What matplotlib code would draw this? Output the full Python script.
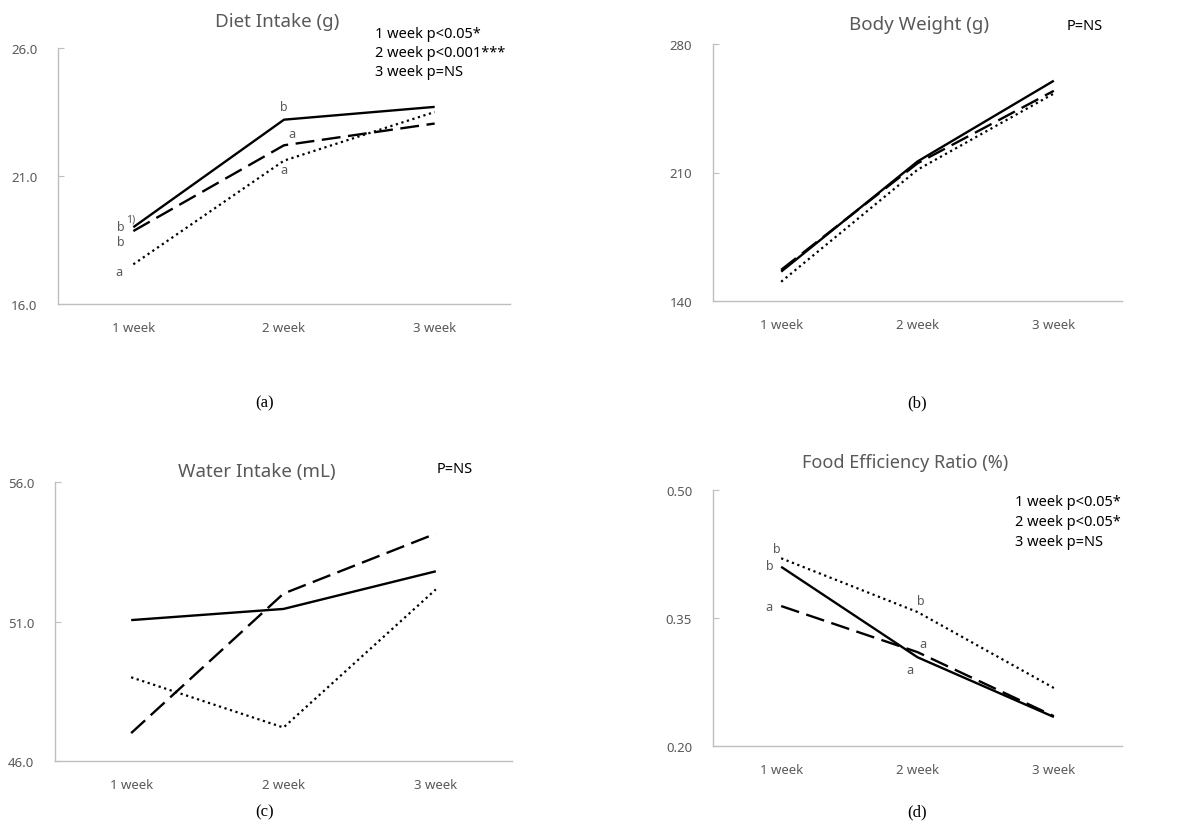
import matplotlib
matplotlib.use("Agg")
import matplotlib.pyplot as plt

plt.rcParams["font.family"] = ["Noto Sans", "DejaVu Sans"]

weeks = ["1 week", "2 week", "3 week"]

# (a) diet intake
diet_solid = [19.0, 23.2, 23.7]
diet_dashed = [18.85, 22.2, 23.05]
diet_dotted = [17.55, 21.6, 23.5]
diet_ticks = [16.0, 21.0, 26.0]
diet_stats = ["1 week p<0.05*", "2 week p<0.001***", "3 week p=NS"]

# (b) body weight
weight_solid = [156.0, 216.0, 260.0]
weight_dashed = [157.0, 215.0, 254.5]
weight_dotted = [150.5, 211.5, 253.0]
weight_ticks = [140, 210, 280]

# (c) water intake
water_solid = [51.05, 51.45, 52.8]
water_dashed = [47.0, 52.0, 54.15]
water_dotted = [49.0, 47.2, 52.15]
water_ticks = [46.0, 51.0, 56.0]

# (d) food efficiency ratio
fer_solid = [0.410, 0.304, 0.234]
fer_dashed = [0.364, 0.310, 0.235]
fer_dotted = [0.420, 0.357, 0.268]
fer_ticks = [0.20, 0.35, 0.50]
fer_stats = ["1 week p<0.05*", "2 week p<0.05*", "3 week p=NS"]

W, H = 1184, 828
GRAY = "#595959"
AXIS_GRAY = "#bfbfbf"


def px_axes(fig, left, top, right, bottom):
    return fig.add_axes([left / W, 1 - bottom / H, (right - left) / W, (bottom - top) / H])


def draw_panel(ax, solid, dashed, dotted, ticks, fmt):
    x = range(len(weeks))
    ax.plot(x, solid, color="black", lw=1.7, solid_capstyle="butt")
    ax.plot(x, dashed, color="black", lw=1.7, linestyle=(0, (8, 3.2)))
    ax.plot(x, dotted, color="black", lw=1.6, linestyle=(0, (1, 1.6)))
    ax.set_xlim(-0.5, 2.5)
    ax.set_ylim(ticks[0], ticks[-1])
    ax.set_yticks(ticks)
    ax.set_yticklabels([fmt.format(t) for t in ticks])
    ax.set_xticks(list(x))
    ax.set_xticklabels(weeks)
    for side in ["top", "right"]:
        ax.spines[side].set_visible(False)
    for side in ["left", "bottom"]:
        ax.spines[side].set_color(AXIS_GRAY)
        ax.spines[side].set_linewidth(1.0)
    ax.tick_params(axis="y", direction="in", length=4, color=AXIS_GRAY,
                   labelcolor=GRAY, labelsize=9.5, pad=15)
    ax.tick_params(axis="x", length=0, labelcolor=GRAY, labelsize=9.5, pad=12)


def letters(ax, series, labels):
    # labels: (week index, text, dx px, dy px)
    for i, text, dx, dy in labels:
        ax.annotate(text, xy=(i, series[i]), xytext=(dx * 0.72, dy * 0.72),
                    textcoords="offset points", ha="center", va="center",
                    fontsize=9, color=GRAY)


fig = plt.figure(figsize=(W / 100, H / 100), dpi=100)

# (a)
ax_a = px_axes(fig, 58, 49, 510, 305)
draw_panel(ax_a, diet_solid, diet_dashed, diet_dotted, diet_ticks, "{:.1f}")
letters(ax_a, diet_solid, [(0, "b", -13, 1), (1, "b", 0, 13)])
ax_a.annotate("1)", xy=(0, diet_solid[0]), xytext=(-3 * 0.72, 8 * 0.72),
              textcoords="offset points", ha="center", va="center",
              fontsize=7.5, color=GRAY)
letters(ax_a, diet_dashed, [(0, "b", -13, -10), (1, "a", 8, 12)])
letters(ax_a, diet_dotted, [(0, "a", -14, -7), (1, "a", 0, -9)])
fig.text(277 / W, 1 - 22 / H, "Diet Intake (g)", ha="center", va="center",
         fontsize=13.5, color=GRAY)
for k, line in enumerate(diet_stats):
    fig.text(375 / W, 1 - (34 + 19.5 * k) / H, line, ha="left", va="center",
             fontsize=10.5, color="black")

# (b)
ax_b = px_axes(fig, 713, 45, 1122, 302)
draw_panel(ax_b, weight_solid, weight_dashed, weight_dotted, weight_ticks, "{:d}")
fig.text(919 / W, 1 - 25 / H, "Body Weight (g)", ha="center", va="center",
         fontsize=13.5, color=GRAY)
fig.text(1067 / W, 1 - 27 / H, "P=NS", ha="left", va="center",
         fontsize=10.5, color="black")

# (c)
ax_c = px_axes(fig, 55, 483, 512, 762)
draw_panel(ax_c, water_solid, water_dashed, water_dotted, water_ticks, "{:.1f}")
fig.text(257 / W, 1 - 472 / H, "Water Intake (mL)", ha="center", va="center",
         fontsize=13.5, color=GRAY)
fig.text(437 / W, 1 - 470 / H, "P=NS", ha="left", va="center",
         fontsize=10.5, color="black")

# (d)
ax_d = px_axes(fig, 713, 491, 1122, 747)
draw_panel(ax_d, fer_solid, fer_dashed, fer_dotted, fer_ticks, "{:.2f}")
letters(ax_d, fer_dotted, [(0, "b", -4, 10), (1, "b", 3, 12)])
letters(ax_d, fer_solid, [(0, "b", -11, 1), (1, "a", -8, -12)])
letters(ax_d, fer_dashed, [(0, "a", -12, 0), (1, "a", 5, 9)])
fig.text(905 / W, 1 - 463 / H, "Food Efficiency Ratio (%)", ha="center", va="center",
         fontsize=13, color=GRAY)
for k, line in enumerate(fer_stats):
    fig.text(1015 / W, 1 - (503 + 19.5 * k) / H, line, ha="left", va="center",
             fontsize=10.5, color="black")

# sub captions
for label, cx, cy in [("(a)", 265, 403), ("(b)", 917, 403), ("(c)", 265, 812), ("(d)", 917, 812)]:
    fig.text(cx / W, 1 - cy / H, label, ha="center", va="center",
             fontsize=12, family="Liberation Serif", color="black")

fig.savefig("out.png", dpi=100)
